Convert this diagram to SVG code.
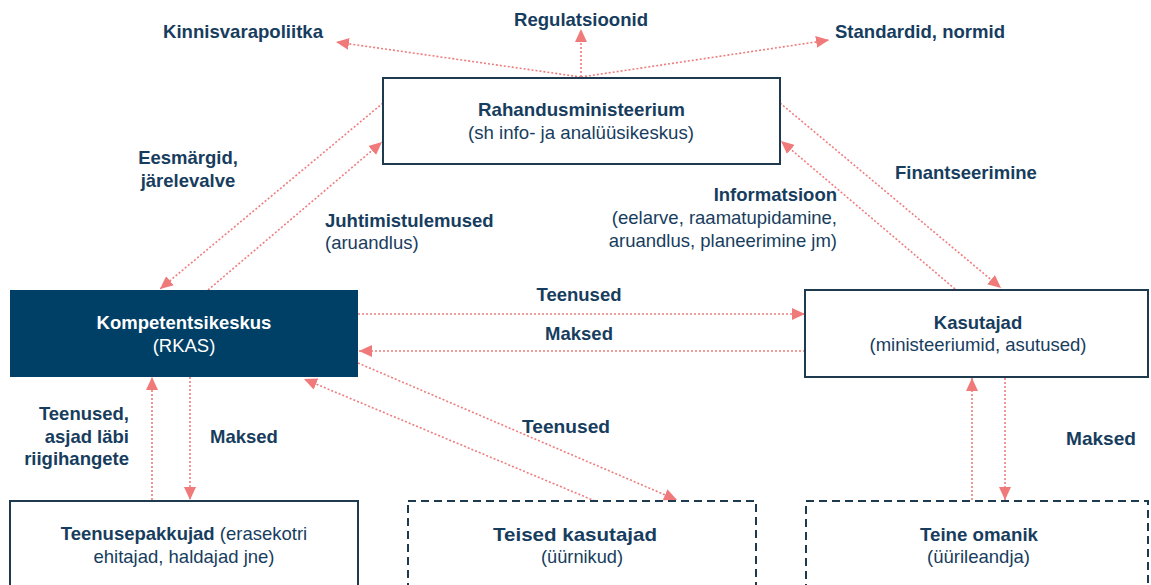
<svg xmlns="http://www.w3.org/2000/svg" width="1151" height="585" viewBox="0 0 1151 585">
<style>
text{font-family:"Liberation Sans",Arial,sans-serif;fill:#173d5e;font-size:18.5px}
.b{font-weight:bold}
.n{font-family:"Liberation Sans",Arial,sans-serif;font-size:19px}
.w{fill:#ffffff}
.box{fill:#ffffff;stroke:#1e3a4f;stroke-width:2}
.dbox{fill:#ffffff;stroke:#1e3a4f;stroke-width:2;stroke-dasharray:8 5}
.dark{fill:#003f66}
.c line{stroke:#ee7d7d;stroke-width:1.6;stroke-dasharray:2 2;fill:none}
.m{marker-end:url(#ah)}
</style>
<defs>
<marker id="ah" markerUnits="userSpaceOnUse" markerWidth="14" markerHeight="12" refX="13" refY="6" orient="auto">
<path d="M0,0 L13,6 L0,12 Z" fill="#f07a7a"/>
</marker>
</defs>
<rect width="1151" height="585" fill="#ffffff"/>

<g id="connectors" class="c">
<line class="m" x1="581" y1="77" x2="336" y2="42"/>
<line class="m" x1="581" y1="77" x2="581" y2="29"/>
<line class="m" x1="581" y1="77" x2="829" y2="40"/>
<line class="m" x1="383" y1="103" x2="160" y2="289"/>
<line class="m" x1="208" y1="290" x2="382" y2="142"/>
<line class="m" x1="780" y1="103" x2="1001" y2="288"/>
<line class="m" x1="955" y1="289" x2="781" y2="141"/>
<line class="m" x1="358" y1="314" x2="805" y2="314"/>
<line class="m" x1="805" y1="351" x2="359" y2="351"/>
<line class="m" x1="358" y1="363" x2="677" y2="500"/>
<line class="m" x1="595" y1="501" x2="304" y2="379"/>
<line class="m" x1="152" y1="500" x2="152" y2="377"/>
<line class="m" x1="190" y1="377" x2="190" y2="500"/>
<line class="m" x1="972" y1="500" x2="972" y2="378"/>
<line class="m" x1="1005" y1="378" x2="1005" y2="500"/>
</g>

<g id="labels">
<text class="b n" x="163" y="38" textLength="160" lengthAdjust="spacingAndGlyphs">Kinnisvarapoliitka</text>
<text class="b n" x="514" y="26" textLength="134" lengthAdjust="spacingAndGlyphs">Regulatsioonid</text>
<text class="b n" x="835" y="38" textLength="170" lengthAdjust="spacingAndGlyphs">Standardid, normid</text>
<text class="b" x="188" y="164" text-anchor="middle">Eesmärgid,</text>
<text class="b" x="188" y="187" text-anchor="middle">järelevalve</text>
<text class="b" x="325" y="227">Juhtimistulemused</text>
<text x="325" y="249">(aruandlus)</text>
<text class="b" x="837" y="201" text-anchor="end">Informatsioon</text>
<text x="837" y="224" text-anchor="end">(eelarve, raamatupidamine,</text>
<text x="837" y="247" text-anchor="end">aruandlus, planeerimine jm)</text>
<text class="b" x="895" y="179">Finantseerimine</text>
<text class="b" x="579" y="301" text-anchor="middle">Teenused</text>
<text class="b" x="579" y="340" text-anchor="middle">Maksed</text>
<text class="b n" x="522" y="433" textLength="88" lengthAdjust="spacingAndGlyphs">Teenused</text>
<text class="b n" x="1066" y="445" textLength="70" lengthAdjust="spacingAndGlyphs">Maksed</text>
<text class="b" x="129" y="420" text-anchor="end">Teenused,</text>
<text class="b" x="129" y="443" text-anchor="end">asjad läbi</text>
<text class="b" x="129" y="465" text-anchor="end">riigihangete</text>
<text class="b" x="210" y="443">Maksed</text>
</g>

<g id="rahandusministeerium">
<rect class="box" x="383" y="78" width="397" height="86"/>
<text class="b n" x="478" y="116" textLength="207" lengthAdjust="spacingAndGlyphs">Rahandusministeerium</text>
<text class="n" x="468" y="139" textLength="226" lengthAdjust="spacingAndGlyphs">(sh info- ja analüüsikeskus)</text>
</g>

<g id="kompetentsikeskus">
<rect class="dark" x="10" y="290" width="348" height="87"/>
<text class="b w" x="184" y="329" text-anchor="middle">Kompetentsikeskus</text>
<text class="w" x="184" y="352" text-anchor="middle">(RKAS)</text>
</g>

<g id="kasutajad">
<rect class="box" x="805" y="290" width="343" height="87"/>
<text class="b" x="978" y="329" text-anchor="middle">Kasutajad</text>
<text x="978" y="351" text-anchor="middle">(ministeeriumid, asutused)</text>
</g>

<g id="teenusepakkujad">
<rect class="box" x="10" y="501" width="348" height="100"/>
<text x="184" y="540" text-anchor="middle"><tspan class="b">Teenusepakkujad</tspan> (erasekotri</text>
<text x="184" y="563" text-anchor="middle">ehitajad, haldajad jne)</text>
</g>

<g id="teised-kasutajad">
<rect class="dbox" x="408" y="501" width="348" height="100"/>
<text class="b n" x="493" y="541" textLength="164" lengthAdjust="spacingAndGlyphs">Teised kasutajad</text>
<text class="n" x="541" y="563" textLength="82" lengthAdjust="spacingAndGlyphs">(üürnikud)</text>
</g>

<g id="teine-omanik">
<rect class="dbox" x="806" y="501" width="342" height="100"/>
<text class="b n" x="920" y="541" textLength="118" lengthAdjust="spacingAndGlyphs">Teine omanik</text>
<text class="n" x="927" y="563" textLength="103" lengthAdjust="spacingAndGlyphs">(üürileandja)</text>
</g>
</svg>
